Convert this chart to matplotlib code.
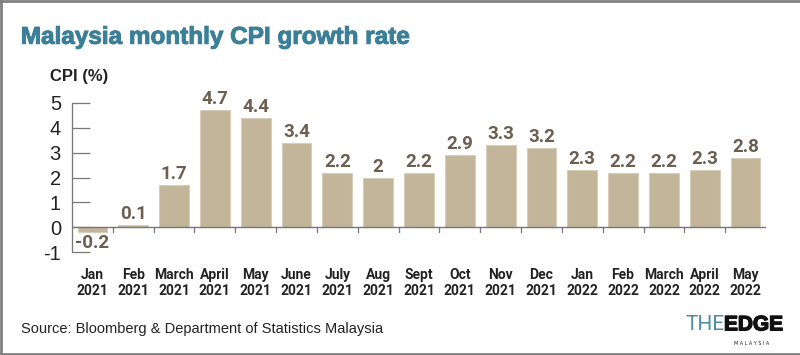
import matplotlib.pyplot as plt
from matplotlib.lines import Line2D
import matplotlib.patheffects as pe

months = ["Jan", "Feb", "March", "April", "May", "June", "July", "Aug", "Sept",
          "Oct", "Nov", "Dec", "Jan", "Feb", "March", "April", "May"]
years = ["2021"] * 12 + ["2022"] * 5
cpi = [-0.2, 0.1, 1.7, 4.7, 4.4, 3.4, 2.2, 2, 2.2, 2.9, 3.3, 3.2, 2.3, 2.2, 2.2, 2.3, 2.8]
value_labels = ["-0.2", "0.1", "1.7", "4.7", "4.4", "3.4", "2.2", "2", "2.2",
                "2.9", "3.3", "3.2", "2.3", "2.2", "2.2", "2.3", "2.8"]
yticks = [-1, 0, 1, 2, 3, 4, 5]

bar_color = "#c3b59a"
label_color = "#6b5f50"
title_color = "#3b7f99"

fig = plt.figure(figsize=(8, 3.55), dpi=100)
ax = fig.add_axes([0.09, 0.29, 0.8675, 0.42])

x = list(range(len(cpi)))
ax.bar(x, cpi, width=0.73, color=bar_color, edgecolor="#d8cdb8", linewidth=0.8, zorder=2)

for xi, v, s in zip(x, cpi, value_labels):
    if v >= 0:
        ax.text(xi, v + 0.08, s, ha="center", va="bottom", fontsize=13.5, fontweight="bold",
                color=label_color, family="Roboto", clip_on=False)
    else:
        ax.text(xi, v - 0.08, s, ha="center", va="top", fontsize=13.5, fontweight="bold",
                color=label_color, family="Roboto", clip_on=False)

ax.set_xlim(-0.5, len(cpi) - 0.5)
ax.set_ylim(-1, 5)
ax.set_yticks(yticks)
ax.set_yticklabels([str(t) for t in yticks], fontsize=14.5, color="#222222", family="Liberation Sans")
ax.tick_params(axis="y", direction="in", length=13, width=0.9, color="#777777", pad=8)

# month labels below the plot
ax.set_xticks([])
for xi, m, yr in zip(x, months, years):
    ax.text(xi, -1.65, m + "\n" + yr, ha="center", va="top", fontsize=10, fontweight="bold",
            color="#222222", family="Roboto", linespacing=1.12, clip_on=False)

# zero line with category separators
ax.axhline(0, color="#777777", linewidth=1.0, zorder=3)
for b in range(1, len(cpi)):
    ax.plot([b - 0.5, b - 0.5], [0, -0.2], color="#777777", linewidth=0.9, zorder=3, clip_on=False)

for side in ["top", "right", "bottom"]:
    ax.spines[side].set_visible(False)
ax.spines["left"].set_color("#777777")
ax.spines["left"].set_linewidth(0.9)

t = fig.text(0.026, 0.895, "Malaysia monthly CPI growth rate", fontsize=17.5, fontweight="bold",
             color=title_color, family="Liberation Sans", va="center")
t.set_path_effects([pe.withStroke(linewidth=0.7, foreground=title_color)])
fig.text(0.062, 0.785, "CPI (%)", fontsize=12, fontweight="bold", color="#222222",
         family="Liberation Sans", va="center")
fig.text(0.026, 0.072, "Source: Bloomberg & Department of Statistics Malaysia", fontsize=10.5,
         color="#222222", family="Liberation Sans", va="center")

# logo
fig.text(0.857, 0.085, "THE", fontsize=15, color="#4e8ea5", family="Roboto",
         fontweight="normal", va="center", ha="left")
e = fig.text(0.905, 0.085, "EDGE", fontsize=15, fontweight="bold", color="#111111",
             family="Liberation Sans", va="center", ha="left")
e.set_path_effects([pe.withStroke(linewidth=1.0, foreground="#111111")])
fig.text(0.94, 0.032, "M A L A Y S I A", fontsize=3.5, color="#222222", va="center", ha="center")

# frame (left, top, bottom)
fig.add_artist(Line2D([0.001, 0.001], [0, 1], color="#808080", linewidth=2, transform=fig.transFigure))
fig.add_artist(Line2D([0, 1], [0.997, 0.997], color="#808080", linewidth=2, transform=fig.transFigure))
fig.add_artist(Line2D([0, 1], [0.003, 0.003], color="#808080", linewidth=2, transform=fig.transFigure))

fig.savefig("out.png", dpi=100, facecolor="white")
